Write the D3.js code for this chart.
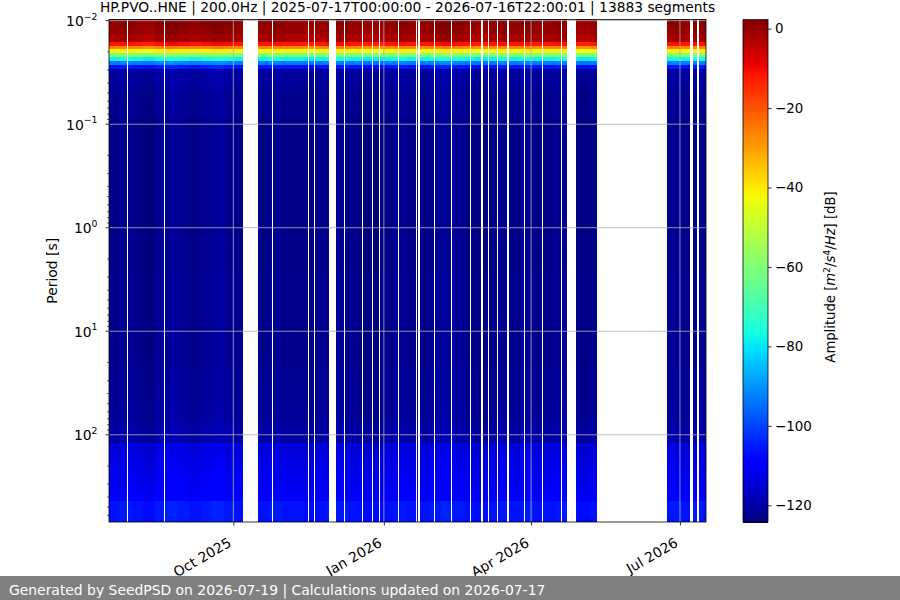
<!DOCTYPE html>
<meta charset="utf-8">
<style>

body {
  margin: 0;
  overflow: hidden;
  background: #fff;
}

svg {
  font-family: "DejaVu Sans", sans-serif;
}

.cell {
  shape-rendering: crispEdges;
}

.grid {
  stroke: #b0b0b0;
  stroke-width: 0.8px;
}

.spine {
  fill: none;
  stroke: #000;
  stroke-width: 0.8px;
}

.tick line {
  stroke: #000;
  stroke-width: 0.8px;
}

</style>
<svg width=900 height=600></svg>
<script src='https://cdn.jsdelivr.net/npm/d3@7'></script>
<script>

// chart texts
const title = "HP.PVO..HNE | 200.0Hz | 2025-07-17T00:00:00 - 2026-07-16T22:00:01 | 13883 segments";
const footer = "Generated by SeedPSD on 2026-07-19 | Calculations updated on 2026-07-17";
const yLabel = "Period [s]";

// time span of the data
const startTime = "2025-07-17T00:00";
const endTime = "2026-07-16T22:00";

// period bin edges [s] and the mean amplitude of each bin [dB]
const periodEdges = [0.0095, 0.01035, 0.01129, 0.01231, 0.01342, 0.01463, 0.01595,
  0.01739, 0.01897, 0.02068, 0.02256, 0.0246, 0.02683, 0.02926,
  0.0414, 0.0585, 0.0828, 0.117, 0.166, 0.234, 0.331, 0.468, 0.662, 0.936,
  1.32, 1.87, 2.65, 3.75, 5.30, 7.49, 10.6, 15.0, 21.2, 30.0, 42.4, 59.9, 84.7,
  120, 170, 240, 340, 440, 700];
const profileDb = [1, 0.5, 0, -0.5, -1.5, -3,
  -12, -27, -42, -60, -78, -93, -106,
  -121, -122, -122.5, -123, -123, -123, -123, -123, -123, -123,
  -123, -123, -123, -122.5, -122.5, -122.5, -122.5, -122.5, -122.5, -122, -122, -121.5,
  -121, -120, -114, -112.5, -111.5, -110.5, -106];

// week to week shift of the spectrum [dB], one value per week from the start
const weekOffsetDb = [0, 1, 0, -1, 1, 2, 1, 0, 1, 2, 1, 0, -1, 0, 1, 0, 0, -1,
  0, 1, 1, 0, -1, -1, 0, 1, 0, 0, 1, 2, 1, 0, -1, 0, 1, 0, 1, 0, 0, 1, 0, -1,
  0, 0, 0, 0, 0, 0, 0, 1, 0, 1, 0];

// periods without data
const dataGaps = [
  ["2025-07-28T06:00", "2025-07-28T22:00"],
  ["2025-08-19T11:00", "2025-08-20T03:00"],
  ["2025-10-07T05:00", "2025-10-16T02:00"],
  ["2025-10-24T11:00", "2025-10-25T03:00"],
  ["2025-11-15T16:00", "2025-11-16T08:00"],
  ["2025-11-19T04:00", "2025-11-19T20:00"],
  ["2025-11-28T14:00", "2025-12-02T19:00"],
  ["2025-12-07T09:00", "2025-12-08T01:00"],
  ["2025-12-18T09:00", "2025-12-19T01:00"],
  ["2025-12-24T11:00", "2025-12-25T03:00"],
  ["2025-12-28T18:00", "2025-12-29T10:00"],
  ["2026-01-09T09:00", "2026-01-10T01:00"],
  ["2026-01-20T16:00", "2026-01-21T08:00"],
  ["2026-01-22T04:00", "2026-01-22T20:00"],
  ["2026-01-31T16:00", "2026-02-01T08:00"],
  ["2026-02-11T04:00", "2026-02-11T20:00"],
  ["2026-02-22T09:00", "2026-02-23T01:00"],
  ["2026-03-01T16:00", "2026-03-02T08:00"],
  ["2026-03-05T09:00", "2026-03-06T01:00"],
  ["2026-03-10T21:00", "2026-03-11T13:00"],
  ["2026-03-17T14:00", "2026-03-18T06:00"],
  ["2026-03-27T16:00", "2026-03-28T08:00"],
  ["2026-04-07T16:00", "2026-04-08T08:00"],
  ["2026-04-19T02:00", "2026-04-19T18:00"],
  ["2026-04-23T00:00", "2026-04-28T07:00"],
  ["2026-05-11T05:00", "2026-06-23T05:00"],
  ["2026-07-06T22:00", "2026-07-09T02:00"],
  ["2026-07-11T07:00", "2026-07-12T17:00"]
];

// ticks
const xTicks = ["2025-10-01T00:00", "2026-01-01T00:00", "2026-04-01T00:00", "2026-07-01T00:00"];
const yTicks = [-2, -1, 0, 1, 2];
const cbarTicks = [0, -20, -40, -60, -80, -100, -120];
const dbRange = [-124.2, 2.3];
const periodRange = [0.00974, 696];

const parseTime = d3.utcParse("%Y-%m-%dT%H:%M");
const plot = {left: 109, right: 706, top: 19.5, bottom: 522};
const cbar = {left: 743, right: 768};
const tickFont = "13.9px";

const svg = d3.select("svg");

const x = d3.scaleUtc()
  .domain([parseTime(startTime), parseTime(endTime)])
  .range([plot.left, plot.right]);
const y = d3.scaleLog()
  .domain(periodRange)
  .range([plot.top, plot.bottom]);

// matplotlib "jet" colormap
const jetR = d3.scaleLinear().domain([0, 0.35, 0.66, 0.89, 1]).range([0, 0, 1, 1, 0.5]).clamp(true);
const jetG = d3.scaleLinear().domain([0, 0.125, 0.375, 0.64, 0.91, 1]).range([0, 0, 1, 1, 0, 0]).clamp(true);
const jetB = d3.scaleLinear().domain([0, 0.11, 0.34, 0.65, 1]).range([0.5, 1, 1, 0, 0]).clamp(true);
const norm = d3.scaleLinear().domain(dbRange).range([0, 1]).clamp(true);
function jet(db) {
  const v = Math.floor(norm(db) * 255) / 255;
  return d3.rgb(jetR(v) * 255, jetG(v) * 255, jetB(v) * 255).formatHex();
}

// stretches with data, split at week boundaries
function dataPieces() {
  const t0 = parseTime(startTime), t1 = parseTime(endTime);
  const gaps = dataGaps.map(g => [parseTime(g[0]), parseTime(g[1])]);
  let segs = [];
  let cur = t0;
  gaps.forEach(g => {
    if (g[0] > cur) segs.push([cur, g[0]]);
    cur = g[1];
  });
  if (cur < t1) segs.push([cur, t1]);
  let pieces = [];
  segs.forEach(s => {
    let a = s[0];
    while (a < s[1]) {
      const week = Math.floor(d3.utcDay.count(t0, a) / 7);
      const weekEnd = d3.utcDay.offset(t0, (week + 1) * 7);
      const b = weekEnd < s[1] ? weekEnd : s[1];
      pieces.push({t0: a, t1: b, week: week});
      a = b;
    }
  });
  return pieces;
}

let cells = [];
dataPieces().forEach(p => {
  profileDb.forEach((db, i) => {
    cells.push({t0: p.t0, t1: p.t1, p0: periodEdges[i], p1: periodEdges[i + 1],
                db: db + weekOffsetDb[Math.min(p.week, weekOffsetDb.length - 1)]});
  });
});

svg.append("clipPath").attr("id", "plotclip")
  .append("rect")
  .attr("x", plot.left).attr("y", plot.top)
  .attr("width", plot.right - plot.left).attr("height", plot.bottom - plot.top);

svg.append("g")
  .attr("clip-path", "url(#plotclip)")
  .selectAll("rect")
  .data(cells)
  .join("rect")
  .attr("class", "cell")
  .attr("x", d => x(d.t0))
  .attr("width", d => x(d.t1) - x(d.t0))
  .attr("y", d => y(d.p0))
  .attr("height", d => y(d.p1) - y(d.p0))
  .attr("fill", d => jet(d.db));

// grid
let grid = svg.append("g").attr("clip-path", "url(#plotclip)");
grid.selectAll(".vgrid")
  .data(xTicks.map(parseTime))
  .join("line")
  .attr("class", "grid")
  .attr("x1", d => x(d)).attr("x2", d => x(d))
  .attr("y1", plot.top).attr("y2", plot.bottom);
grid.selectAll(".hgrid")
  .data(yTicks)
  .join("line")
  .attr("class", "grid")
  .attr("x1", plot.left).attr("x2", plot.right)
  .attr("y1", d => y(Math.pow(10, d))).attr("y2", d => y(Math.pow(10, d)));

// x axis
let xAxis = svg.append("g")
  .attr("transform", "translate(0," + plot.bottom + ")")
  .call(d3.axisBottom(x).tickValues(xTicks.map(parseTime)).tickSize(3.5).tickFormat(d3.utcFormat("%b %Y")));
xAxis.select(".domain").remove();
xAxis.selectAll(".tick text")
  .attr("font-size", tickFont)
  .attr("font-family", "DejaVu Sans")
  .attr("fill", "#000")
  .attr("text-anchor", "end")
  .attr("dy", null)
  .attr("y", null)
  .attr("transform", "translate(-1.5,23.5) rotate(-30)");

// y axis with minor ticks
let minorTicks = [];
d3.range(-3, 3).forEach(e => {
  d3.range(2, 10).forEach(m => {
    const v = m * Math.pow(10, e);
    if (v > periodRange[0] && v < periodRange[1]) minorTicks.push(v);
  });
});
let yAxis = svg.append("g")
  .attr("transform", "translate(" + plot.left + ",0)");
yAxis.selectAll(".minor")
  .data(minorTicks)
  .join("line")
  .attr("class", "minor")
  .attr("stroke", "#000").attr("stroke-width", 0.6)
  .attr("x1", -2).attr("x2", 0)
  .attr("y1", d => y(d)).attr("y2", d => y(d));
let yTick = yAxis.selectAll(".ytick")
  .data(yTicks)
  .join("g")
  .attr("class", "tick")
  .attr("transform", d => "translate(0," + y(Math.pow(10, d)) + ")");
yTick.append("line").attr("x1", -3.5).attr("x2", 0);
let yText = yTick.append("text")
  .attr("x", -11.5)
  .attr("y", 5.5)
  .attr("text-anchor", "end")
  .attr("font-size", tickFont);
yText.append("tspan").text("10");
yText.append("tspan")
  .attr("font-size", "9.3px")
  .attr("dy", -6.5)
  .text(d => d3.format("d")(d));

svg.append("text")
  .attr("transform", "translate(57," + ((plot.top + plot.bottom) / 2) + ") rotate(-90)")
  .attr("text-anchor", "middle")
  .attr("font-size", "13.9px")
  .text(yLabel);

svg.append("rect")
  .attr("class", "spine")
  .attr("x", plot.left).attr("y", plot.top)
  .attr("width", plot.right - plot.left).attr("height", plot.bottom - plot.top);

svg.append("text")
  .attr("x", (plot.left + plot.right) / 2)
  .attr("y", 12)
  .attr("text-anchor", "middle")
  .attr("font-size", "13.8px")
  .text(title);

// colorbar
const cy = d3.scaleLinear().domain(dbRange).range([plot.bottom, plot.top]);
const steps = d3.range(256).map(i => dbRange[0] + (dbRange[1] - dbRange[0]) * i / 256);
const stepDb = (dbRange[1] - dbRange[0]) / 256;
svg.append("g")
  .selectAll("rect")
  .data(steps)
  .join("rect")
  .attr("class", "cell")
  .attr("x", cbar.left)
  .attr("width", cbar.right - cbar.left)
  .attr("y", d => cy(d + stepDb))
  .attr("height", d => cy(d) - cy(d + stepDb) + 0.5)
  .attr("fill", d => jet(d + stepDb / 2));
svg.append("rect")
  .attr("class", "spine")
  .attr("x", cbar.left).attr("y", plot.top)
  .attr("width", cbar.right - cbar.left).attr("height", plot.bottom - plot.top);
let cAxis = svg.append("g")
  .attr("transform", "translate(" + cbar.right + ",0)")
  .call(d3.axisRight(cy).tickValues(cbarTicks).tickSize(3.5).tickPadding(3.5));
cAxis.select(".domain").remove();
cAxis.selectAll(".tick text")
  .attr("font-size", "13.4px")
  .attr("font-family", "DejaVu Sans")
  .attr("fill", "#000");

let cLabel = svg.append("text")
  .attr("transform", "translate(835,277) rotate(-90)")
  .attr("text-anchor", "middle")
  .attr("font-size", "13.2px");
cLabel.append("tspan").text("Amplitude [");
cLabel.append("tspan").attr("font-style", "italic").text("m");
cLabel.append("tspan").attr("font-size", "9.3px").attr("dy", -5.5).text("2");
cLabel.append("tspan").attr("dy", 5.5).text("/");
cLabel.append("tspan").attr("font-style", "italic").text("s");
cLabel.append("tspan").attr("font-size", "9.3px").attr("dy", -5.5).text("4");
cLabel.append("tspan").attr("dy", 5.5).text("/");
cLabel.append("tspan").attr("font-style", "italic").text("Hz");
cLabel.append("tspan").text("] [dB]");

// footer
svg.append("rect")
  .attr("x", 0).attr("y", 576)
  .attr("width", 900).attr("height", 24)
  .attr("fill", "#808080");
svg.append("text")
  .attr("x", 9).attr("y", 595)
  .attr("font-size", "13.9px")
  .attr("fill", "#fff")
  .text(footer);

</script>
